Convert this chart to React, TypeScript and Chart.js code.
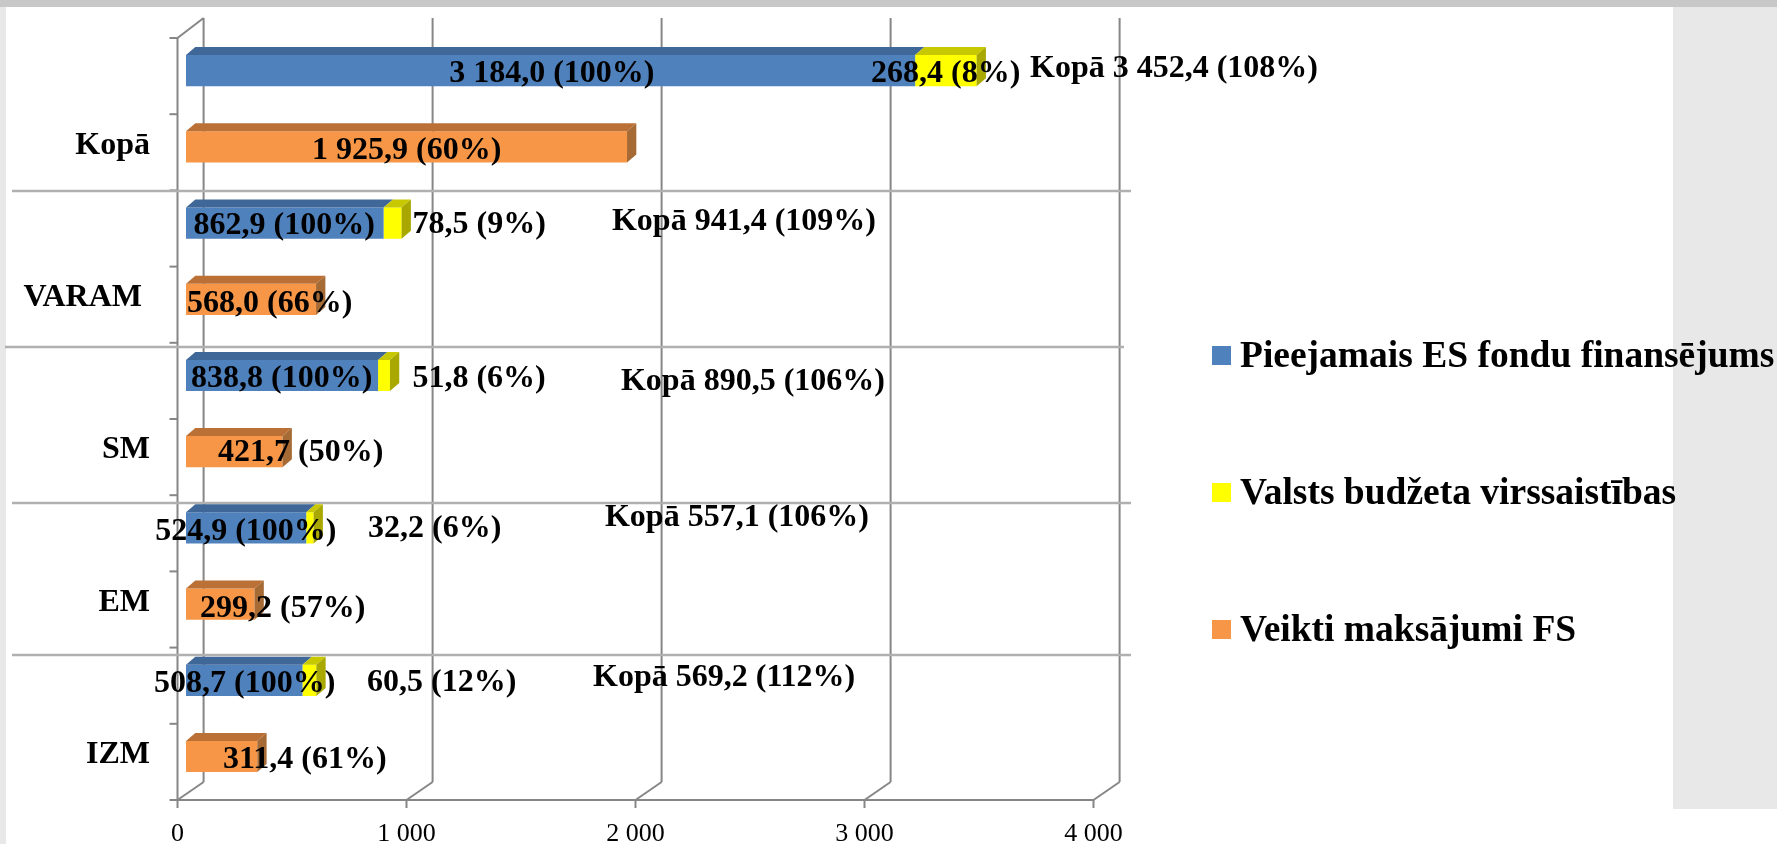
import React, { useEffect, useRef } from "react";
import { Chart, registerables } from "chart.js";

Chart.register(...registerables);

const categories = ["Kopā", "VARAM", "SM", "EM", "IZM"];
const available = [3184.0, 862.9, 838.8, 524.9, 508.7];
const overcommit = [268.4, 78.5, 51.8, 32.2, 60.5];
const paid = [1925.9, 568.0, 421.7, 299.2, 311.4];
const totals = [3452.4, 941.4, 890.5, 557.1, 569.2];
const availablePct = [100, 100, 100, 100, 100];
const overcommitPct = [8, 9, 6, 6, 12];
const paidPct = [60, 66, 50, 57, 61];
const totalPct = [108, 109, 106, 106, 112];
const seriesNames = [
  "Pieejamais ES fondu finansējums",
  "Valsts budžeta virssaistības",
  "Veikti maksājumi FS",
];
const xTicks = [0, 1000, 2000, 3000, 4000];

// layout only: label offsets from the end of the bar they annotate
const availableOffsets = [[-466, 3], [-190, 3], [-187, 3.5], [-151, 4], [-148.5, 3.7]];
const overcommitOffsets = [[-105.6, 3], [11, 2], [22.5, 3.5], [54.4, 1], [50.7, 2]];
const paidOffsets = [[-315, 4], [-129, 4], [-64.6, 1], [-54.5, 5], [-34.3, 3.5]];
const totalOffsets = [[53.4, -2], [210.4, -1], [231, 6.5], [291.4, -10], [276.7, -3]];
const separators = [[12, 1131, 191], [5, 1124, 347], [12, 1131, 503], [12, 1131, 655]];

const SERIF = '"Liberation Serif", "Times New Roman", serif';
const BLUE = "#4f81bd";
const YELLOW = "#ffff00";
const ORANGE = "#f79646";
const faces: Record<string, [string, string]> = {
  [BLUE]: ["#3f6797", "#3a5f8c"],
  [YELLOW]: ["#c8c800", "#a8a800"],
  [ORANGE]: ["#bb7035", "#a66a35"],
};
const WALL = "#868686";

const fmt = (n: number, d = 1) =>
  n.toFixed(d).replace(".", ",").replace(/\B(?=(\d{3})(?!\d))/g, " ");
const fmtTick = (n: number) => String(n).replace(/\B(?=(\d{3})+$)/g, " ");

const backdrop = {
  id: "backdrop",
  beforeDraw(chart: any) {
    const { ctx, width, height } = chart;
    ctx.save();
    ctx.fillStyle = "#ffffff";
    ctx.fillRect(0, 0, width, height);
    ctx.fillStyle = "#e8e8e8";
    ctx.fillRect(0, 0, 6, height);
    ctx.fillRect(1673, 0, width - 1673, 809);
    ctx.fillStyle = "#c8c8c8";
    ctx.fillRect(0, 0, width, 7);
    ctx.restore();
  },
};

const walls = {
  id: "walls",
  beforeDatasetsDraw(chart: any) {
    const { ctx, scales, chartArea } = chart;
    const x = scales.x;
    const frontDx = -8.5, backDx = 17.6;
    const frontTop = chartArea.top + 5.4, frontBottom = chartArea.bottom + 5.4;
    const backTop = frontTop - 20, backBottom = frontBottom - 18;
    const x0Front = x.getPixelForValue(0) + frontDx;
    const x0Back = x.getPixelForValue(0) + backDx;
    ctx.save();
    ctx.strokeStyle = WALL;
    ctx.lineWidth = 2;
    const line = (a: number, b: number, c: number, d: number) => {
      ctx.beginPath();
      ctx.moveTo(a, b);
      ctx.lineTo(c, d);
      ctx.stroke();
    };
    xTicks.forEach((v) => {
      const p = x.getPixelForValue(v);
      line(p + backDx, backTop, p + backDx, backBottom);
      line(p + frontDx, frontBottom, p + backDx, backBottom);
      line(p + frontDx, frontBottom, p + frontDx, frontBottom + 8);
    });
    line(x0Front, frontTop, x0Back, backTop);
    line(x0Front, frontTop, x0Front, frontBottom);
    line(x0Front, frontBottom, x.getPixelForValue(4000) + frontDx, frontBottom);
    const step = (frontBottom - frontTop) / (categories.length * 2);
    for (let i = 0; i <= categories.length * 2; i++) {
      const y = frontTop + i * step;
      line(x0Front - 8, y, x0Front, y);
    }
    ctx.strokeStyle = "#b0b0b0";
    ctx.lineWidth = 2.5;
    separators.forEach(([a, b, y]) => line(a, y, b, y));
    ctx.restore();
  },
};

const extrude = {
  id: "extrude",
  afterDatasetsDraw(chart: any) {
    const { ctx } = chart;
    const dx = 9.3, dy = 8;
    ctx.save();
    chart.data.datasets.forEach((ds: any, di: number) => {
      const meta = chart.getDatasetMeta(di);
      const [top, side] = faces[ds.backgroundColor];
      const topOfStack = di !== 0;
      meta.data.forEach((el: any) => {
        const { x, y, base, height } = el.getProps(["x", "y", "base", "height"], true);
        const t = y - height / 2, b = y + height / 2;
        ctx.fillStyle = top;
        ctx.beginPath();
        ctx.moveTo(base, t);
        ctx.lineTo(base + dx, t - dy);
        ctx.lineTo(x + dx, t - dy);
        ctx.lineTo(x, t);
        ctx.closePath();
        ctx.fill();
        if (topOfStack) {
          ctx.fillStyle = side;
          ctx.beginPath();
          ctx.moveTo(x, t);
          ctx.lineTo(x + dx, t - dy);
          ctx.lineTo(x + dx, b - dy);
          ctx.lineTo(x, b);
          ctx.closePath();
          ctx.fill();
        }
      });
    });
    ctx.restore();
  },
};

const labels = {
  id: "barLabels",
  afterDraw(chart: any) {
    const { ctx } = chart;
    const [m0, m1, m2] = [0, 1, 2].map((i) => chart.getDatasetMeta(i).data);
    ctx.save();
    ctx.font = `bold 32px ${SERIF}`;
    ctx.fillStyle = "#000000";
    ctx.textAlign = "left";
    ctx.textBaseline = "middle";
    const put = (el: any, off: number[], text: string) =>
      ctx.fillText(text, el.x + off[0], el.y + off[1]);
    categories.forEach((_, i) => {
      put(m0[i], availableOffsets[i], `${fmt(available[i])} (${availablePct[i]}%)`);
      put(m1[i], overcommitOffsets[i], `${fmt(overcommit[i])} (${overcommitPct[i]}%)`);
      put(m2[i], paidOffsets[i], `${fmt(paid[i])} (${paidPct[i]}%)`);
      put(m1[i], totalOffsets[i], `Kopā ${fmt(totals[i])} (${totalPct[i]}%)`);
    });
    ctx.restore();
  },
};

const legendPanel = {
  id: "legendPanel",
  afterDraw(chart: any) {
    const { ctx } = chart;
    const left = 1212, top = 346, rowGap = 137, box = 19, textX = 1240;
    ctx.save();
    ctx.font = `bold 37.5px ${SERIF}`;
    ctx.textAlign = "left";
    ctx.textBaseline = "middle";
    chart.data.datasets.forEach((ds: any, i: number) => {
      const y = top + i * rowGap;
      ctx.fillStyle = ds.backgroundColor;
      ctx.fillRect(left, y, box, box);
      ctx.fillStyle = "#000000";
      ctx.fillText(ds.label, textX, y + box / 2 + 2);
    });
    ctx.restore();
  },
};

export default function App() {
  const ref = useRef<HTMLCanvasElement | null>(null);
  useEffect(() => {
    if (!ref.current) return;
    const bar = { borderWidth: 0, categoryPercentage: 1, barPercentage: 0.41 };
    const chart = new Chart(ref.current, {
      type: "bar",
      data: {
        labels: categories,
        datasets: [
          { label: seriesNames[0], data: available, backgroundColor: BLUE, stack: "plan", ...bar },
          { label: seriesNames[1], data: overcommit, backgroundColor: YELLOW, stack: "plan", ...bar },
          { label: seriesNames[2], data: paid, backgroundColor: ORANGE, stack: "done", ...bar },
        ],
      },
      options: {
        indexAxis: "y",
        animation: false,
        responsive: false,
        devicePixelRatio: 1,
        layout: { padding: { left: 0, right: 675, top: 32.6, bottom: 0 } },
        plugins: { legend: { display: false }, title: { display: false }, tooltip: { enabled: false } },
        scales: {
          x: {
            type: "linear",
            min: 0,
            max: 4000,
            stacked: true,
            afterFit: (s: any) => { s.height = 49.4; s.paddingLeft = 0; s.paddingRight = 0; },
            afterBuildTicks: (s: any) => { s.ticks = xTicks.map((value) => ({ value })); },
            grid: { display: false, drawTicks: false },
            border: { display: false },
            ticks: {
              autoSkip: false,
              maxRotation: 0,
              padding: 24,
              labelOffset: -8.5,
              color: "#000000",
              font: { family: SERIF, size: 26 },
              callback: (v: any) => fmtTick(Number(v)),
            },
          },
          y: {
            stacked: true,
            afterFit: (s: any) => { s.width = 186; s.paddingTop = 0; s.paddingBottom = 0; },
            grid: { display: false, drawTicks: false },
            border: { display: false },
            ticks: {
              padding: 36,
              labelOffset: 36.5,
              color: "#000000",
              font: { family: SERIF, size: 32, weight: "bold" },
              callback: (_: any, i: number) => categories[i] + (categories[i] === "VARAM" ? " " : ""),
            },
          },
        },
      },
      plugins: [backdrop, walls, extrude, labels, legendPanel],
    } as any);
    return () => chart.destroy();
  }, []);
  return (
    <div style={{ position: "absolute", left: 0, top: 0, width: 1777, height: 844 }}>
      <canvas ref={ref} width={1777} height={844} style={{ display: "block" }} />
    </div>
  );
}
